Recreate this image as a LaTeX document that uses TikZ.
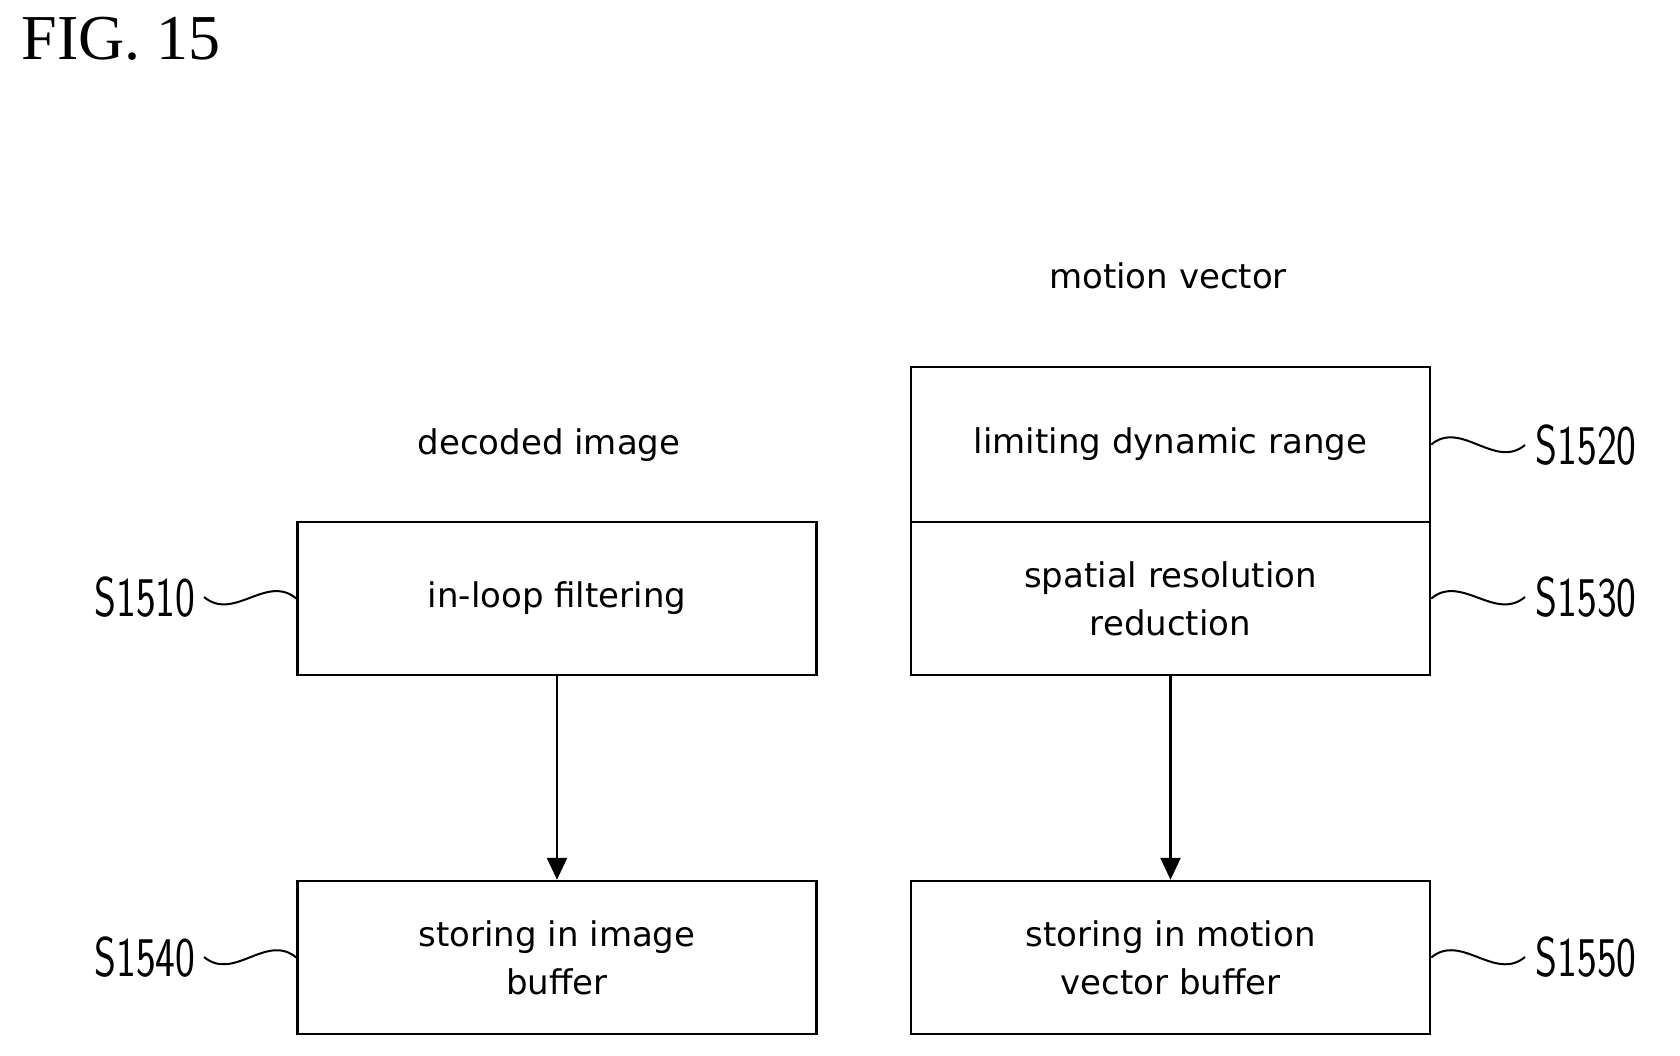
\documentclass[tikz,border=0pt]{standalone}
\usepackage{fontspec}
\setmainfont{Liberation Serif}
\newfontfamily\boxfont{DejaVu Sans}
\usetikzlibrary{arrows.meta,decorations.pathmorphing}
\begin{document}
\begin{tikzpicture}[x=1pt,y=-1pt,
  box/.style={draw,line width=2.5pt,minimum width=519pt,minimum height=153pt,inner sep=0pt,align=center,font=\boxfont\fontsize{34}{48}\selectfont},
  txt/.style={font=\boxfont\fontsize{34}{40}\selectfont},
  lab/.style={font=\fontsize{56}{56}\selectfont\sffamily,xscale=0.75},
  sq/.style={line width=2pt},
  arr/.style={line width=2.5pt,-{Triangle[length=22pt,width=20pt]}}]
\useasboundingbox (0,0) rectangle (1680,1056);
\node[anchor=north west,font=\fontsize{64}{64}\selectfont] (fig) at (18,14) {FIG. 15};
\node[txt] (mv) at (1168,276) {motion vector};
\node[txt] (di) at (549,445) {decoded image};
\node[box,minimum height=155pt] (b20) at (1170.5,444.5) {limiting dynamic range};
\node[box] (b30) at (1170.5,598.5) {spatial resolution\\reduction};
\node[box] (b10) at (557,598.5) {in-loop filtering};
\node[box] (b40) at (557,957.5) {storing in image\\buffer};
\node[box] (b50) at (1170.5,957.5) {storing in motion\\vector buffer};
\draw[arr] (b10.south) -- (b40.north);
\draw[arr] (b30.south) -- (b50.north);
\node[lab,anchor=east] (l10) at (198,597) {S1510};
\node[lab,anchor=east] (l40) at (198,957) {S1540};
\node[lab,anchor=west] (l20) at (1533,445) {S1520};
\node[lab,anchor=west] (l30) at (1533,597) {S1530};
\node[lab,anchor=west] (l50) at (1533,957) {S1550};
\foreach \b/\l in {b20/l20,b30/l30,b50/l50}{
  \draw[sq] (\b.east) .. controls +(30,-25) and +(-30,25) .. ([xshift=-8pt]\l.west);}
\foreach \b/\l in {b10/l10,b40/l40}{
  \draw[sq] ([xshift=6pt]\l.east) .. controls +(30,25) and +(-30,-25) .. (\b.west);}
\end{tikzpicture}
\end{document}
